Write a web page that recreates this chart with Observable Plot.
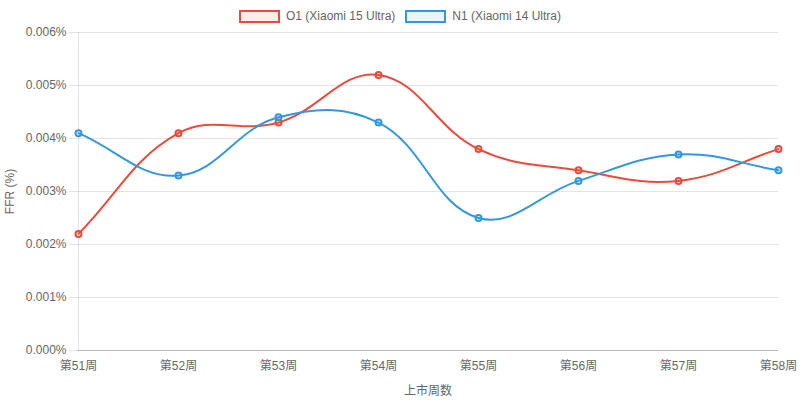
<!DOCTYPE html>
<html>
<head>
<meta charset="utf-8">
<script src="https://cdn.jsdelivr.net/npm/d3@7"></script>
<script src="https://cdn.jsdelivr.net/npm/@observablehq/plot@0.6"></script>
<style>
  html, body { margin: 0; padding: 0; background: #fff; }
  #wrap { position: relative; width: 800px; height: 401px; font-family: "Liberation Sans", Arial, "Noto Sans CJK SC", sans-serif; }
  #legend { position: absolute; top: 0; left: 0; width: 800px; height: 32px; display: flex; justify-content: center; align-items: center; gap: 10px; font-size: 12px; color: #666; }
  .item { display: flex; align-items: center; gap: 6px; }
  .box { width: 37px; height: 9px; border-width: 2px; border-style: solid; }
</style>
</head>
<body>
<div id="wrap"><div id="legend"></div></div>
<script>
const weeks = ["第51周", "第52周", "第53周", "第54周", "第55周", "第56周", "第57周", "第58周"];
const seriesNames = ["O1 (Xiaomi 15 Ultra)", "N1 (Xiaomi 14 Ultra)"];
const o1Values = [0.0022, 0.0041, 0.0043, 0.0052, 0.0038, 0.0034, 0.0032, 0.0038];
const n1Values = [0.0041, 0.0033, 0.0044, 0.0043, 0.0025, 0.0032, 0.0037, 0.0034];
const yTicks = [0, 0.001, 0.002, 0.003, 0.004, 0.005, 0.006];
const colors = ["#e74c3c", "#3498db"];
const fills = ["rgba(231,76,60,0.1)", "rgba(52,152,219,0.1)"];

const data = [];
weeks.forEach((w, i) => {
  data.push({week: w, value: o1Values[i], series: seriesNames[0]});
  data.push({week: w, value: n1Values[i], series: seriesNames[1]});
});

// Chart.js-style spline curve (tension 0.4)
function chartJsCurve(context) {
  const t = 0.4;
  return {
    areaStart() {}, areaEnd() {},
    lineStart() { this._p = []; },
    point(x, y) { this._p.push([+x, +y]); },
    lineEnd() {
      const p = this._p, n = p.length;
      if (!n) return;
      const cpPrev = [], cpNext = [];
      for (let i = 0; i < n; i++) {
        const cur = p[i], prev = p[i - 1] || cur, next = p[i + 1] || cur;
        const d01 = Math.hypot(cur[0] - prev[0], cur[1] - prev[1]);
        const d12 = Math.hypot(next[0] - cur[0], next[1] - cur[1]);
        let s01 = d01 / (d01 + d12), s12 = d12 / (d01 + d12);
        if (isNaN(s01)) s01 = 0; if (isNaN(s12)) s12 = 0;
        const fa = t * s01, fb = t * s12;
        cpPrev.push([cur[0] - fa * (next[0] - prev[0]), cur[1] - fa * (next[1] - prev[1])]);
        cpNext.push([cur[0] + fb * (next[0] - prev[0]), cur[1] + fb * (next[1] - prev[1])]);
      }
      context.moveTo(p[0][0], p[0][1]);
      for (let i = 1; i < n; i++) {
        context.bezierCurveTo(cpNext[i - 1][0], cpNext[i - 1][1], cpPrev[i][0], cpPrev[i][1], p[i][0], p[i][1]);
      }
    }
  };
}

const legend = document.getElementById("legend");
seriesNames.forEach((s, i) => {
  const it = document.createElement("div");
  it.className = "item";
  it.innerHTML = `<span class="box" style="border-color:${colors[i]};background:${fills[i]}"></span><span>${s}</span>`;
  legend.appendChild(it);
});

const chart = Plot.plot({
  width: 800,
  height: 401,
  marginTop: 32,
  marginBottom: 51,
  marginLeft: 77,
  marginRight: 22,
  style: {fontFamily: '"Liberation Sans", Arial, "Noto Sans CJK SC", sans-serif', fontSize: "12px", color: "#666", background: "#fff"},
  x: {type: "point", domain: weeks, padding: 0},
  y: {domain: [0, 0.006]},
  color: {domain: seriesNames, range: colors},
  marks: [
    Plot.gridY(yTicks, {stroke: "#000", strokeOpacity: 0.1, strokeWidth: 1}),
    Plot.ruleY([0], {stroke: "#000", strokeOpacity: 0.2}),
    Plot.ruleX([weeks[0]], {stroke: "#000", strokeOpacity: 0.1}),
    Plot.axisY(yTicks, {tickFormat: d => d.toFixed(3) + "%", tickSize: 8, tickPadding: 3, stroke: "#000", strokeOpacity: 0.1, fill: "#666", fontSize: 12,
      label: "FFR (%)", labelAnchor: "center", labelArrow: "none", labelOffset: 72}),
    Plot.axisX({tickSize: 0, tickPadding: 11, fill: "#666", fontSize: 12,
      label: "上市周数", labelAnchor: "center", labelArrow: "none", labelOffset: 44}),
    Plot.line(data, {x: "week", y: "value", stroke: "series", strokeWidth: 2, curve: chartJsCurve}),
    Plot.dot(data, {x: "week", y: "value", stroke: "series", fill: d => d.series === seriesNames[0] ? fills[0] : fills[1], r: 3, strokeWidth: 2})
  ]
});
document.getElementById("wrap").insertBefore(chart, document.getElementById("legend"));
</script>
</body>
</html>
